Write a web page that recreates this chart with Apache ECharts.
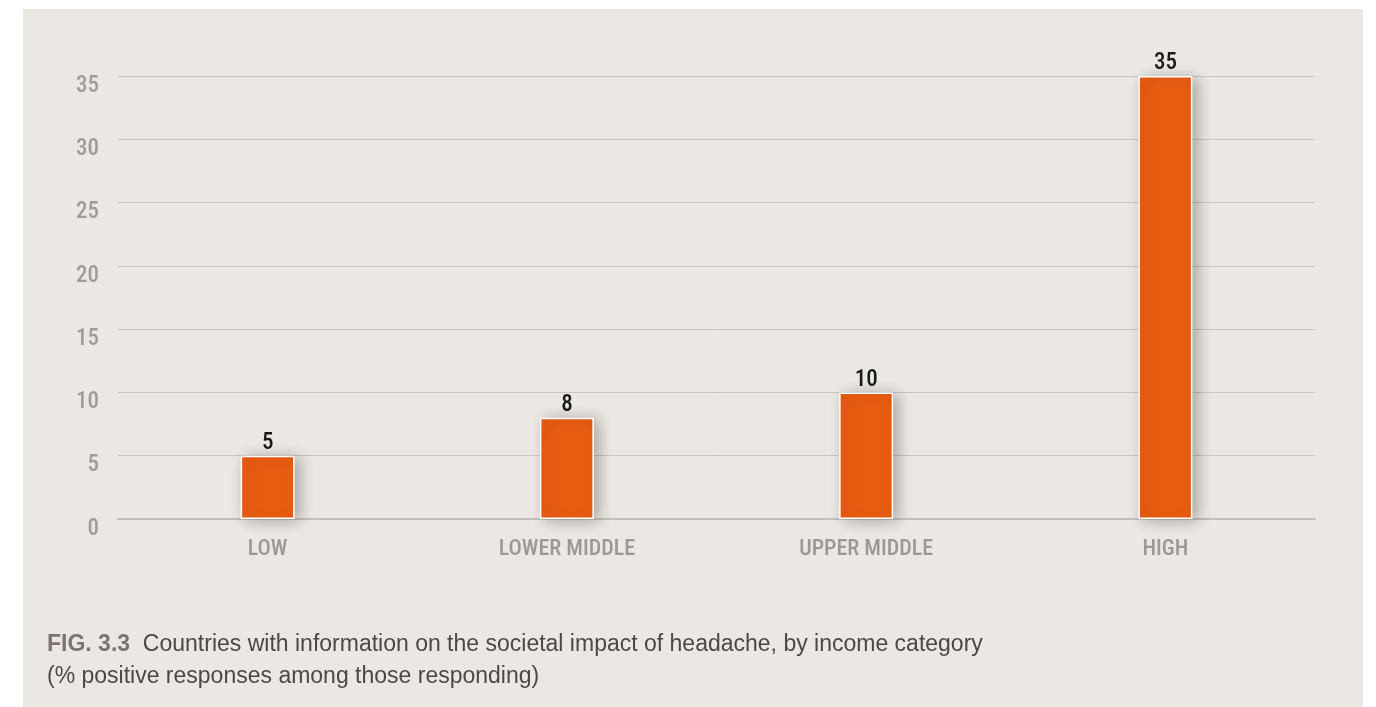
<!DOCTYPE html>
<html><head><meta charset="utf-8">
<script src="https://cdn.jsdelivr.net/npm/echarts@6/dist/echarts.min.js"></script>
<style>html,body{margin:0;padding:0;background:#fff;}#c{width:1376px;height:707px;}</style>
</head><body><div id="c"></div>
<script>
const categories = ['LOW', 'LOWER MIDDLE', 'UPPER MIDDLE', 'HIGH'];
const values = [5, 8, 10, 35];
const yTicks = [0, 5, 10, 15, 20, 25, 30, 35];
const captionFig = 'FIG. 3.3';
const captionLine1 = 'Countries with information on the societal impact of headache, by income category';
const captionLine2 = '(% positive responses among those responding)';

const narrow = '"Roboto Condensed", "Liberation Sans Narrow", "Liberation Sans", sans-serif';
const chart = echarts.init(document.getElementById('c'));
chart.setOption({
  animation: false,
  backgroundColor: '#ffffff',
  graphic: [
    { type: 'rect', z: -10, shape: { x: 23, y: 9, width: 1340, height: 698 }, style: { fill: '#ebe8e3' } },
    { type: 'text', left: 47, top: 629, style: {
        text: '{b|' + captionFig + '}  ' + captionLine1 + '\n' + captionLine2,
        font: '23px "Liberation Sans", Arial, sans-serif', fill: '#4b4846', lineHeight: 32,
        rich: { b: { font: 'bold 23px "Liberation Sans", Arial, sans-serif', fill: '#7d746f' } } } }
  ],
  grid: { left: 118, right: 61, top: 76, bottom: 188 },
  xAxis: {
    type: 'category', data: categories,
    axisLine: { lineStyle: { color: '#c3bfb9', width: 2 } },
    axisTick: { show: false },
    axisLabel: { color: '#9c9893', fontFamily: narrow, fontSize: 22, fontWeight: 500, margin: 19 }
  },
  yAxis: {
    type: 'value', min: 0, max: 35, interval: 5,
    axisLine: { show: false }, axisTick: { show: false },
    splitLine: { lineStyle: { color: '#c9c5c0', width: 1 } },
    axisLabel: { margin: 19,
      formatter: v => yTicks.includes(v) ? '{a|' + v + '}' : '',
      rich: { a: { color: '#a09c97', fontFamily: narrow, fontSize: 23, fontWeight: 500, padding: [20, 0, 0, 0] } } }
  },
  series: [{
    type: 'bar', data: values, barWidth: 54,
    itemStyle: { color: '#e85c12', borderColor: '#ffffff', borderWidth: 1.5,
      shadowColor: 'rgba(0,0,0,0.28)', shadowBlur: 14, shadowOffsetX: 5, shadowOffsetY: 2 },
    label: { show: true, position: 'top', distance: 1, color: '#1a1a1a', fontFamily: narrow, fontSize: 23, fontWeight: 500 }
  }]
});
</script></body></html>
